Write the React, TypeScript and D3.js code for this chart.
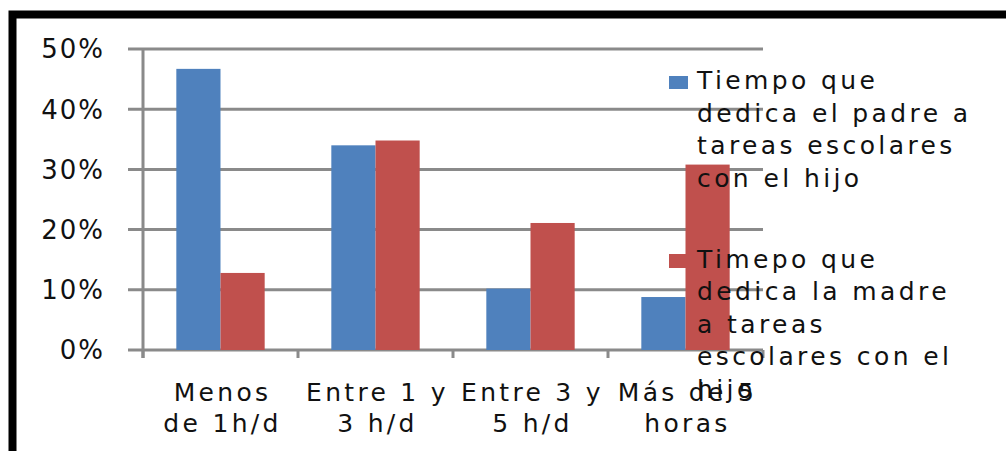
import React from "react";
import * as d3 from "d3";

const categories = ["Menos de 1h/d", "Entre 1 y 3 h/d", "Entre 3 y 5 h/d", "Más de 5 horas"];
const categoryLines = [
  ["Menos", "de 1h/d"],
  ["Entre 1 y", "3 h/d"],
  ["Entre 3 y", "5 h/d"],
  ["Más de 5", "horas"],
];
const padreValues = [0.467, 0.34, 0.102, 0.088];
const madreValues = [0.128, 0.348, 0.211, 0.308];
const yTicks = [0, 0.1, 0.2, 0.3, 0.4, 0.5];
const seriesKeys = ["padre", "madre"];
const seriesColors = ["#4F81BD", "#C0504D"];
const legendPadre = ["Tiempo que", "dedica el padre a", "tareas escolares", "con el hijo"];
const legendMadre = ["Timepo que", "dedica la madre", "a tareas", "escolares con el", "hijo"];

const W = 1006;
const H = 451;
const FONT = "'DejaVu Sans', sans-serif";

export default function App() {
  const x = d3.scaleBand<string>().domain(categories).range([143, 763]).padding(0);
  const bw = x.bandwidth();
  const groupW = bw * 0.57;
  const x1 = d3.scaleBand<string>().domain(seriesKeys).range([0, groupW]).padding(0);
  const y = d3.scaleLinear().domain([0, 0.5]).range([350, 49]);
  const series = [padreValues, madreValues];
  const grid = "#8a8a8a";

  return (
    <svg width={W} height={H} style={{ position: "absolute", left: 0, top: 0, background: "#fff" }}>
      <rect x={0} y={0} width={W} height={H} fill="#fff" />
      {/* frame */}
      <rect x={12.5} y={14.5} width={1200} height={600} fill="none" stroke="#000" strokeWidth={8} />

      {/* gridlines */}
      {yTicks.map((t) => (
        <line key={t} x1={128} x2={763} y1={y(t)} y2={y(t)} stroke={grid} strokeWidth={3} />
      ))}
      {/* y axis */}
      <line x1={143} x2={143} y1={y(0.5)} y2={y(0) + 8} stroke={grid} strokeWidth={3} />
      {/* x ticks */}
      {[...categories.map((c) => x(c) as number), 763].map((px, i) => (
        <line key={i} x1={px} x2={px} y1={y(0)} y2={y(0) + 8} stroke={grid} strokeWidth={3} />
      ))}

      {/* bars */}
      {categories.map((c, i) => (
        <g key={c} transform={`translate(${(x(c) as number) + (bw - groupW) / 2},0)`}>
          {seriesKeys.map((k, j) => (
            <rect
              key={k}
              x={x1(k) as number}
              y={y(series[j][i])}
              width={x1.bandwidth()}
              height={y(0) - y(series[j][i])}
              fill={seriesColors[j]}
            />
          ))}
        </g>
      ))}

      {/* y tick labels */}
      {yTicks.map((t) => (
        <text
          key={t}
          x={105}
          y={y(t)}
          dy="0.36em"
          textAnchor="end"
          fontFamily={FONT}
          fontSize={26}
          letterSpacing={2}
          fill="#111"
        >
          {d3.format(".0%")(t)}
        </text>
      ))}

      {/* category labels */}
      {categories.map((c, i) => (
        <text
          key={c}
          x={(x(c) as number) + bw / 2}
          textAnchor="middle"
          fontFamily={FONT}
          fontSize={25}
          letterSpacing={3.3}
          fill="#111"
        >
          {categoryLines[i].map((l, k) => (
            <tspan key={k} x={(x(c) as number) + bw / 2 + 2} y={401 + k * 31}>
              {l}
            </tspan>
          ))}
        </text>
      ))}

      {/* legend */}
      <rect x={669} y={76} width={19} height={13} fill={seriesColors[0]} />
      <text fontFamily={FONT} fontSize={25} letterSpacing={3.4} fill="#111">
        {legendPadre.map((l, k) => (
          <tspan key={k} x={697} y={89 + k * 32.7}>
            {l}
          </tspan>
        ))}
      </text>
      <rect x={669} y={254} width={19} height={14} fill={seriesColors[1]} />
      <text fontFamily={FONT} fontSize={25} letterSpacing={3.4} fill="#111">
        {legendMadre.map((l, k) => (
          <tspan key={k} x={697} y={268 + k * 32.4}>
            {l}
          </tspan>
        ))}
      </text>
    </svg>
  );
}
